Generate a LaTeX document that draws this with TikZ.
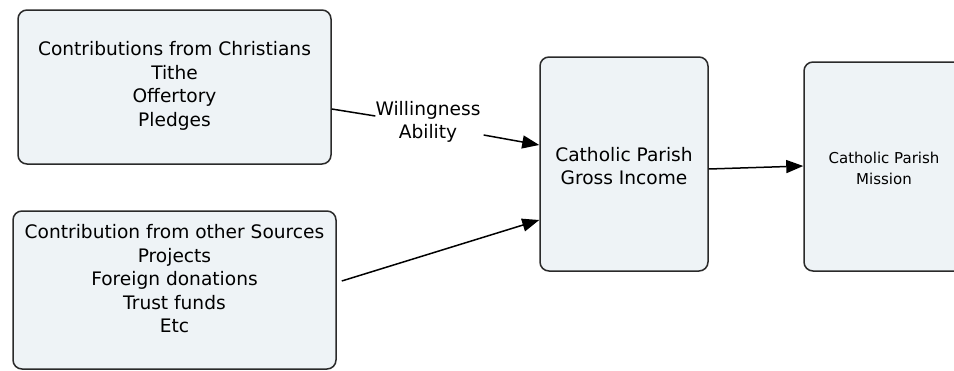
\documentclass[tikz,border=0pt]{standalone}
\usepackage{fontspec}
\setmainfont{DejaVu Sans}
\usetikzlibrary{arrows.meta,calc}
\definecolor{boxfill}{HTML}{EEF3F6}
\definecolor{boxline}{HTML}{2A2A2A}
\begin{document}
\begin{tikzpicture}[x=1pt,y=1pt,
  box/.style={draw=boxline, fill=boxfill, line width=1.5pt, rounded corners=9pt, inner sep=0pt},
  txt/.style={align=center, inner sep=0pt, font=\fontsize{18.6}{23.5}\selectfont},
  smalltxt/.style={align=center, inner sep=0pt, font=\fontsize{15}{21}\selectfont},
  conn/.style={line width=1.5pt, draw=black},
  arr/.style={conn, -{Triangle[length=17pt,width=13pt]}}]
\useasboundingbox (0,0) rectangle (954,-370);
% boxes
\node[box, minimum width=313, minimum height=154] (A) at (174.5,-87) {};
\node[txt] (At) at (174.5,-86) {Contributions from Christians\\Tithe\\Offertory\\Pledges};
\node[box, minimum width=323, minimum height=158] (B) at (174.5,-290) {};
\node[txt] (Bt) at (174.5,-279) {Contribution from other Sources\\Projects\\Foreign donations\\Trust funds\\Etc};
\node[box, minimum width=168, minimum height=214] (C) at (624,-164) {};
\node[txt] (Ct) at (624,-166) {Catholic Parish\\Gross Income};
\node[box, minimum width=162, minimum height=209] (D) at (885,-166.5) {};
\node[smalltxt] (Dt) at (884,-168) {Catholic Parish\\Mission};
% label
\node[txt] (L) at (428,-122) {Willingness\\Ability};
% connectors
\draw[conn] ($(A.east)+(0,-22)$) -- ($(L.west)+(0,6)$);
\draw[arr] ($(L.east)+(3,-13)$) -- ($(C.west)+(0,19)$);
\draw[arr] ($(B.east)+(5,9)$) -- ($(C.west)+(0,-56)$);
\draw[arr] ($(C.east)+(0,-5)$) -- ($(D.west)+(0,0.5)$);
\end{tikzpicture}
\end{document}
